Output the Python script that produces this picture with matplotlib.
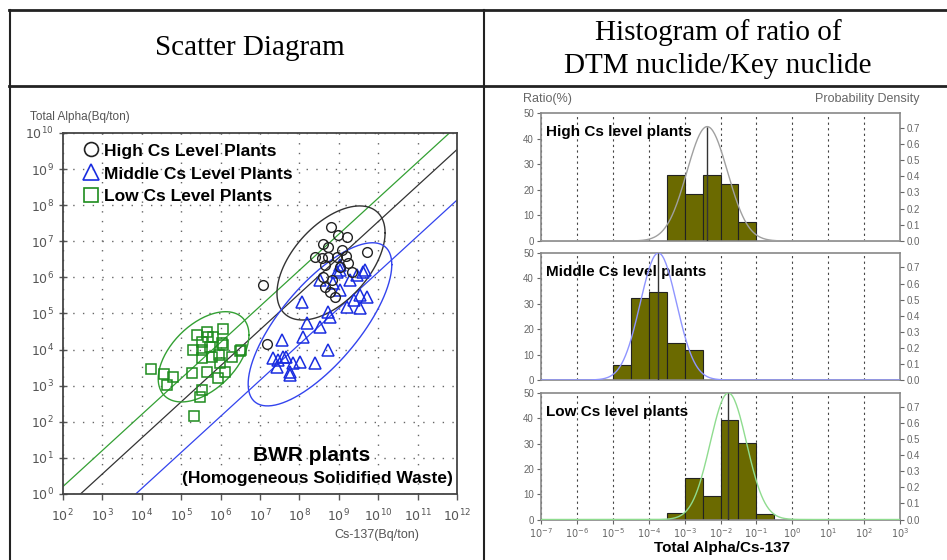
import numpy as np
import matplotlib
matplotlib.use("Agg")
import matplotlib.pyplot as plt
from matplotlib.lines import Line2D
from matplotlib.ticker import FixedLocator, FuncFormatter, NullLocator

plt.rcParams['font.family'] = ['Liberation Sans', 'DejaVu Sans']

# ---- scatter data (log10 of Bq/ton) ----
high_log_cs = [8.80, 8.97, 9.21, 9.70, 8.60, 8.72, 8.39, 8.56, 8.73, 8.94, 9.18, 9.24,
               8.65, 9.03, 8.60, 8.82, 8.65, 8.77, 8.90, 7.08, 7.17, 9.07, 9.32]
high_log_alpha = [7.39, 7.18, 7.13, 6.71, 6.92, 6.85, 6.57, 6.53, 6.56, 6.57, 6.59, 6.39,
                  6.34, 6.30, 6.02, 5.93, 5.74, 5.60, 5.47, 5.79, 4.16, 6.76, 6.16]

mid_log_cs = [8.52, 9.03, 8.85, 9.28, 9.61, 9.70, 9.37, 9.54, 8.06, 8.19, 8.52, 8.77,
              9.03, 9.20, 9.03, 8.09, 7.55, 7.33, 7.67, 8.02, 8.39, 7.43, 7.76, 7.76,
              7.46, 7.84, 8.73, 8.73, 9.54, 9.66, 8.94, 9.45, 7.59]
mid_log_alpha = [5.93, 6.20, 5.84, 5.93, 6.15, 5.46, 5.37, 5.15, 5.32, 4.74, 4.63, 4.91,
                 5.65, 5.18, 6.34, 4.35, 4.27, 3.77, 3.80, 3.66, 3.63, 3.52, 3.38, 3.30,
                 3.71, 3.63, 3.99, 5.05, 5.51, 6.20, 6.16, 6.07, 3.80]

low_log_cs = [5.66, 5.69, 5.40, 6.07, 5.52, 5.82, 5.31, 5.52, 5.73, 6.03, 5.78, 5.52,
              5.97, 6.28, 6.52, 4.23, 4.57, 4.80, 4.64, 5.27, 5.65, 5.99, 6.11, 5.94,
              5.52, 5.48, 5.34, 6.49, 6.07]
low_log_alpha = [4.50, 4.36, 4.40, 4.56, 4.22, 4.34, 4.00, 4.00, 4.08, 4.17, 3.80, 3.76,
                 3.85, 3.80, 4.00, 3.46, 3.32, 3.23, 3.02, 3.34, 3.39, 3.62, 3.39, 3.20,
                 2.88, 2.70, 2.16, 3.97, 4.13]

# ratio lines (log10 alpha/cs)
line_high = -2.45
line_mid = -3.85
line_low = -1.80

# ellipses: centre (log cs, log alpha), half width, half height, tilt phase (deg)
ell_high = (8.80, 6.40, 1.37, 1.58, 58)
ell_mid = (8.52, 4.70, 1.82, 2.26, 43)
ell_low = (5.57, 3.80, 1.15, 1.25, 61)

# ---- histogram data ----
high_edges = [-3.5, -3.0, -2.5, -2.0, -1.5, -1.0]
high_ratio = [25.9, 18.5, 25.9, 22.2, 7.5]
mid_edges = [-5.0, -4.5, -4.0, -3.5, -3.0, -2.5]
mid_ratio = [5.9, 32.4, 34.6, 14.7, 11.8]
low_edges = [-3.5, -3.0, -2.5, -2.0, -1.5, -1.0, -0.5]
low_ratio = [2.4, 16.3, 9.3, 39.5, 30.2, 2.3]

# fitted log-normal: mean, sigma (log10)
high_fit = (-2.37, 0.565)
mid_fit = (-3.73, 0.505)
low_fit = (-1.78, 0.505)

fig = plt.figure(figsize=(9.47, 5.6), dpi=100)
W, H = 947.0, 560.0


def fx(px):
    return px / W


def fy(py):
    return 1 - py / H


# table frame
lk = dict(color='#222222', transform=fig.transFigure)
fig.add_artist(Line2D([fx(9), 1], [fy(10), fy(10)], lw=2.0, **lk))
fig.add_artist(Line2D([fx(9), 1], [fy(86), fy(86)], lw=2.0, **lk))
fig.add_artist(Line2D([fx(10), fx(10)], [fy(10), 0], lw=1.5, **lk))
fig.add_artist(Line2D([fx(484), fx(484)], [fy(10), 0], lw=1.5, **lk))

hk = dict(family=['Liberation Serif', 'DejaVu Serif'], fontsize=21, ha='center', va='center')
fig.text(fx(250), fy(48), "Scatter Diagram", **hk)
fig.text(fx(718), fy(33), "Histogram of ratio of", **hk)
fig.text(fx(718), fy(66), "DTM nuclide/Key nuclide", **hk)

# ---------------- scatter ----------------
ax = fig.add_axes([fx(62.7), fy(494), 394.6 / W, 361 / H])
ax.set_xscale('log')
ax.set_yscale('log')
ax.set_xlim(1e2, 1e12)
ax.set_ylim(1e0, 1e10)

xl = np.array([1e2, 1e12])
ax.plot(xl, xl * 10 ** line_low, color='#33a033', lw=0.9)
ax.plot(xl, xl * 10 ** line_high, color='#333333', lw=0.9)
ax.plot(xl, xl * 10 ** line_mid, color='#3344ee', lw=0.9)

t = np.linspace(0, 2 * np.pi, 200)
for (cx, cy, rx, ry, ph), col in [(ell_high, '#333333'), (ell_mid, '#3344ee'), (ell_low, '#33a033')]:
    ex = cx + rx * np.cos(t)
    ey = cy + ry * np.cos(t - np.radians(ph))
    ax.plot(10 ** ex, 10 ** ey, color=col, lw=1.0)

ax.plot(10 ** np.array(low_log_cs), 10 ** np.array(low_log_alpha), 's', ms=7,
        mfc='none', mec='#1e8c1e', mew=1.1, ls='none')
ax.plot(10 ** np.array(mid_log_cs), 10 ** np.array(mid_log_alpha), '^', ms=8,
        mfc='none', mec='#1a2de0', mew=1.1, ls='none')
ax.plot(10 ** np.array(high_log_cs), 10 ** np.array(high_log_alpha), 'o', ms=7,
        mfc='none', mec='#222222', mew=1.0, ls='none')

dec = FuncFormatter(lambda v, p: r'$10^{%d}$' % round(np.log10(v)))
ax.xaxis.set_major_locator(FixedLocator([10.0 ** k for k in range(2, 13)]))
ax.yaxis.set_major_locator(FixedLocator([10.0 ** k for k in range(0, 11)]))
ax.xaxis.set_minor_locator(NullLocator())
ax.yaxis.set_minor_locator(NullLocator())
ax.xaxis.set_major_formatter(dec)
ax.yaxis.set_major_formatter(dec)
ax.tick_params(labelsize=9, colors='#555555', direction='inout', length=6, width=1.0)
ax.tick_params(axis='x', direction='out', length=4, pad=6)
ax.grid(True, color='#666666', ls=(0, (1, 6)), lw=1.0)
for s in ax.spines.values():
    s.set_color('#444444')
    s.set_linewidth(1.3)

handles = [
    Line2D([], [], marker='o', ls='none', ms=10, mfc='none', mec='#222222', mew=1.2),
    Line2D([], [], marker='^', ls='none', ms=11, mfc='none', mec='#1a2de0', mew=1.2),
    Line2D([], [], marker='s', ls='none', ms=10, mfc='none', mec='#1e8c1e', mew=1.2),
]
ax.legend(handles, ['High Cs Level Plants', 'Middle Cs Level Plants', 'Low Cs Level Plants'],
          loc='upper left', bbox_to_anchor=(0.02, 1.0), frameon=False,
          prop={'weight': 'bold', 'size': 12.5}, handletextpad=0.2, labelspacing=0.45,
          handlelength=1.1, borderaxespad=0.2)

ax.text(0.63, 0.108, "BWR plants", transform=ax.transAxes, ha='center', va='center',
        fontsize=15, fontweight='bold')
ax.text(0.99, 0.044, "(Homogeneous Solidified Waste)", transform=ax.transAxes,
        ha='right', va='center', fontsize=12.5, fontweight='bold')

fig.text(fx(30), fy(117), "Total Alpha(Bq/ton)", fontsize=8.5, color='#555555', va='center')
fig.text(fx(334), fy(535), "Cs-137(Bq/ton)", fontsize=9, color='#555555', va='center')

# ---------------- histograms ----------------
panels = [
    (113, 241, high_edges, high_ratio, high_fit, '#a0a0a0', "High Cs level plants"),
    (253, 380, mid_edges, mid_ratio, mid_fit, '#8f95ff', "Middle Cs level plants"),
    (393, 519.5, low_edges, low_ratio, low_fit, '#8fdc8f', "Low Cs level plants"),
]
xs = np.linspace(-7, 3, 400)
for i, (top, bot, edges, ratio, fit, ccol, title) in enumerate(panels):
    hx = fig.add_axes([fx(541), fy(bot), 359 / W, (bot - top) / H])
    hx.set_xscale('log')
    hx.set_xlim(1e-7, 1e3)
    hx.set_ylim(0, 50)
    e = 10.0 ** np.array(edges)
    hx.bar(e[:-1], ratio, width=e[1:] - e[:-1], align='edge', color='#6b6a00',
           edgecolor='#222222', lw=0.8, zorder=2)
    hx.xaxis.set_major_locator(FixedLocator([10.0 ** k for k in range(-7, 4)]))
    hx.xaxis.set_minor_locator(NullLocator())
    hx.xaxis.set_major_formatter(dec)
    hx.grid(True, axis='x', color='#444444', ls=(0, (2, 3)), lw=0.8, zorder=1)
    hx.set_yticks([0, 10, 20, 30, 40, 50])
    hx.tick_params(labelsize=7, colors='#666666', length=3, width=0.8, pad=2)
    if i < 2:
        hx.tick_params(axis='x', labelbottom=False, length=0)
    else:
        hx.tick_params(axis='x', length=3)
    for s in hx.spines.values():
        s.set_color('#888888')
        s.set_linewidth(1.2)

    px = hx.twinx()
    px.set_ylim(0, 0.79)
    px.set_yticks([0.0, 0.1, 0.2, 0.3, 0.4, 0.5, 0.6, 0.7])
    px.yaxis.set_major_formatter(FuncFormatter(lambda v, p: '%.1f' % v))
    px.tick_params(labelsize=7, colors='#666666', length=3, width=0.8, pad=2)
    mu, sd = fit
    pdf = np.exp(-0.5 * ((xs - mu) / sd) ** 2) / (sd * np.sqrt(2 * np.pi))
    px.plot(10 ** xs, pdf, color=ccol, lw=1.0, zorder=3)
    px.vlines(10 ** mu, 0, 1 / (sd * np.sqrt(2 * np.pi)), color='#333333', lw=1.0, zorder=3)
    for s in px.spines.values():
        s.set_visible(False)
    hx.text(0.015, 0.85, title, transform=hx.transAxes, fontsize=11, fontweight='bold',
            va='center', zorder=5)

fig.text(fx(523), fy(99), "Ratio(%)", fontsize=9, color='#666666', va='center')
fig.text(fx(919), fy(99), "Probability Density", fontsize=9, color='#666666',
         va='center', ha='right')
fig.text(fx(722), fy(548), "Total Alpha/Cs-137", fontsize=11, fontweight='bold',
         ha='center', va='center')

fig.savefig("out.png", dpi=100)
